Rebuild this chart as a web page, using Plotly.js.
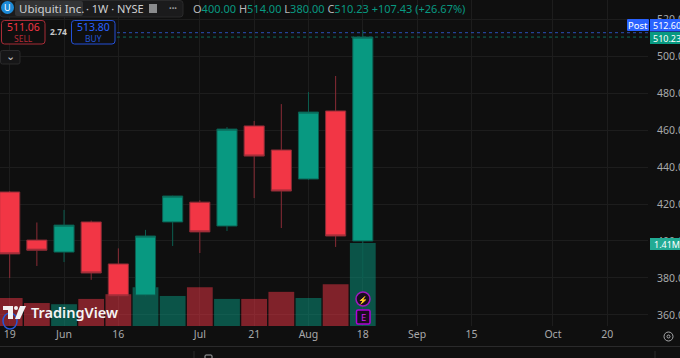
<!DOCTYPE html>
<html><head><meta charset="utf-8">
<script src="https://cdn.plot.ly/plotly-3.0.1.min.js"></script>
<style>html,body{margin:0;padding:0;background:#0f0f0f;overflow:hidden}#c{width:680px;height:358px}</style>
</head><body><div id="c"></div>
<script>
const weeks=['2025-05-19','2025-05-26','2025-06-02','2025-06-09','2025-06-16','2025-06-23','2025-06-30','2025-07-07','2025-07-14','2025-07-21','2025-07-28','2025-08-04','2025-08-11','2025-08-18'];
const opens =[426.5,400.5,394,410.3,387.6,370.8,410.3,421,408.1,462.2,449.2,433.5,470.3,400];
const highs =[427,410,416.8,411,396,406,424.5,422,461.6,464.9,474,480.5,489.2,514];
const lows  =[380,386.5,388.6,379,368,370,397.3,393.5,405.4,423.2,407,433,396.8,380];
const closes=[393,395,408.6,382.7,370.3,402.7,424.3,404.9,460.5,445.9,427,469.7,402.7,510.23];
const volumes=[0.475,0.39,0.37,0.46,0.54,0.66,0.51,0.66,0.46,0.46,0.58,0.475,0.71,1.41];
const tickDates=['2025-05-19','2025-06-02','2025-06-16','2025-07-07','2025-07-21','2025-08-04','2025-08-18','2025-09-01','2025-09-15','2025-10-06','2025-10-20'];
const tickLabels=['19','Jun','16','Jul','21','Aug','18','Sep','15','Oct','20'];
const priceTicks=[360,380,400,420,440,460,480,500,520];
const bidAsk=[512.6,510.23];

const FONT='"Noto Sans","Open Sans",sans-serif';
const PW=648,PH=326;
const X=p=>p/PW, Y=p=>1-p/PH;
const shapes=[],ann=[];
function rect(x0,y0,x1,y1,fill,line,lw){shapes.push({type:'rect',xref:'paper',yref:'paper',x0:X(x0),x1:X(x1),y0:Y(y1),y1:Y(y0),fillcolor:fill||'rgba(0,0,0,0)',line:{color:line||'rgba(0,0,0,0)',width:lw===undefined?(line?1:0):lw},layer:'above'});}
function rrect(x0,y0,x1,y1,r,fill,line,lw){
 const p=(a,b)=>`${X(a)} ${Y(b)}`;
 const path=`M ${p(x0+r,y0)} L ${p(x1-r,y0)} Q ${p(x1,y0)} ${p(x1,y0+r)} L ${p(x1,y1-r)} Q ${p(x1,y1)} ${p(x1-r,y1)} L ${p(x0+r,y1)} Q ${p(x0,y1)} ${p(x0,y1-r)} L ${p(x0,y0+r)} Q ${p(x0,y0)} ${p(x0+r,y0)} Z`;
 shapes.push({type:'path',xref:'paper',yref:'paper',path:path,fillcolor:fill||'rgba(0,0,0,0)',line:{color:line||'rgba(0,0,0,0)',width:lw===undefined?(line?1:0):lw},layer:'above'});
}
function circ(x0,y0,x1,y1,fill,line,lw){shapes.push({type:'circle',xref:'paper',yref:'paper',x0:X(x0),x1:X(x1),y0:Y(y1),y1:Y(y0),fillcolor:fill||'rgba(0,0,0,0)',line:{color:line||'rgba(0,0,0,0)',width:lw||1},layer:'above'});}
function txt(t,x,y,size,color,anchor,extra){ann.push(Object.assign({text:t,xref:'paper',yref:'paper',x:X(x),y:Y(y),xanchor:anchor||'left',yanchor:'middle',showarrow:false,borderpad:0,font:{family:FONT,size:size,color:color}},extra||{}));}

// dotted bid / ask lines
const dotCols=['#2a4fb8','#0e6a5a'];
bidAsk.forEach((v,i)=>shapes.push({type:'line',xref:'paper',yref:'y2',x0:X(117),x1:1,y0:v,y1:v,line:{color:dotCols[i],width:1,dash:'dot'},layer:'above'}));

// header
rrect(0,0.5,183,17,3,'#1b1b1c','#2a2a2b',1);
rrect(15,1,83,16,2,'#333436');
circ(1,1,14,14,'#1c8ad6');
txt('U',7.5,8,9,'#fff','center');
txt('Ubiquiti Inc.',17.5,9,11.5,'#cfd0d2');
txt('· 1W · NYSE',85,9,11,'#cfd0d2');
rect(149,4,157,13,'#8a8b8d');
txt('•••',173,9,7,'#9a9b9d','center');
const g='#089981',w='#b8b9bb';
txt(`<span style="color:${w}">O</span><span style="color:${g}">400.00</span> <span style="color:${w}">H</span><span style="color:${g}">514.00</span> <span style="color:${w}">L</span><span style="color:${g}">380.00</span> <span style="color:${w}">C</span><span style="color:${g}">510.23</span> <span style="color:${g}">+107.43 (+26.67%)</span>`,192,9,11,g);

// sell / buy
rrect(1.5,20.5,45,44,3,'#0f0f0f','#a82c37',1);
txt('511.06',23,27,10.5,'#f23645','center');
txt('SELL',23,38,8.5,'#b42b37','center');
txt('2.74',58,32,8.5,'#c8c9cb','center',{font:{family:FONT,size:8.5,color:'#c8c9cb',weight:700}});
rrect(71.5,20.5,115,44,3,'#0f0f0f','#2450d8',1);
txt('513.80',93,27,10.5,'#2962ff','center');
txt('BUY',93,38,8.5,'#2456d6','center');
rrect(0.5,50.5,20,64,2,'#161617','#2a2a2b',1);
txt('⌄',10,55,11,'#c8c9cb','center');

// price badges
rrect(627,19,649,31,1,'#2962ff');
txt('Post',638,25,9.5,'#fff','center');
rect(650,19,680,31.5,'#2962ff');
txt('512.60',651.5,25,9,'#fff');
rect(650,32,680,44,'#089981');
txt('510.23',651.5,38,9,'#fff');
rect(650,238,680,250,'#22ab94');
txt('1.41M',653,244,9,'#fff');

// purple markers
circ(356,292,370,306,'#1a0d1f','#a018c0',1.5);
txt('⚡',363,299,8,'#c020e0','center');
rrect(356.5,310,370,324,1.5,'#1a0d1f','#b000d8',1.5);
txt('E',363,317,9.5,'#d020f0','center');

// watermark
circ(3,313,17,329,'rgba(0,0,0,0)','#2456d6',1.5);
rect(3,306,13,310,'#f2f2f2');
rect(8,306,13,319,'#f2f2f2');
circ(14,306,18,310,'#f2f2f2');
shapes.push({type:'path',xref:'paper',yref:'paper',path:`M ${X(20)} ${Y(306)} L ${X(26)} ${Y(306)} L ${X(20)} ${Y(319)} L ${X(15)} ${Y(319)} Z`,fillcolor:'#f2f2f2',line:{width:0},layer:'above'});
txt('TradingView',30,312,14.5,'#f4f4f4','left',{font:{family:FONT,size:14.5,color:'#f4f4f4',weight:600}});

// settings icon + bottom strip
circ(664,332,673,341,'rgba(0,0,0,0)','#a8a9ab',1);
circ(667,335,670,338,'rgba(0,0,0,0)','#a8a9ab',1);
shapes.push({type:'line',xref:'paper',yref:'paper',x0:0,x1:X(680),y0:Y(346.5),y1:Y(346.5),line:{color:'#2a2a2b',width:1},layer:'above'});
shapes.push({type:'line',xref:'paper',yref:'paper',x0:X(194),x1:X(194),y0:Y(351),y1:Y(358),line:{color:'#2a2a2b',width:1},layer:'above'});
shapes.push({type:'line',xref:'paper',yref:'paper',x0:X(655),x1:X(655),y0:Y(351),y1:Y(358),line:{color:'#2a2a2b',width:1},layer:'above'});
rrect(205,355,212,362,1,'rgba(0,0,0,0)','#a8a9ab',1);
txt('1D  5D  1M  3M  6M  YTD  1Y  5Y  All',6,361.5,10,'#a8a9ab');
txt('20:31:38 UTC',587,361.5,10,'#a8a9ab');

const vColors=opens.map((o,i)=>closes[i]>=o?'rgba(8,153,129,0.5)':'rgba(242,54,69,0.5)');
const volume={type:'bar',x:weeks,y:volumes,yaxis:'y',xaxis:'x',width:7*864e5*0.95,marker:{color:vColors,line:{width:0}},hoverinfo:'skip'};
const candles={type:'candlestick',x:weeks,open:opens,high:highs,low:lows,close:closes,xaxis:'x',yaxis:'y2',whiskerwidth:0,
 increasing:{line:{color:'#0b5e50',width:1},fillcolor:'#089981'},
 decreasing:{line:{color:'#8a2c36',width:1},fillcolor:'#f23645'}};

Plotly.newPlot('c',[volume,candles],{
 width:680,height:358,margin:{l:0,r:32,t:0,b:32},
 paper_bgcolor:'#0f0f0f',plot_bgcolor:'#0f0f0f',showlegend:false,boxgap:0.26,boxgroupgap:0,
 xaxis:{type:'date',range:['2025-05-16 12:00','2025-10-30 12:00'],tickmode:'array',tickvals:tickDates,ticktext:tickLabels,
   gridcolor:'#1d1d1d',gridwidth:1,showline:false,zeroline:false,ticks:'',ticklen:0,
   tickfont:{family:FONT,size:10.5,color:'#a8a9ab'},rangeslider:{visible:false},automargin:false},
 yaxis:{range:[0,5.535],visible:false,showgrid:false,fixedrange:true},
 yaxis2:{overlaying:'y',side:'right',range:[354.05,530.27],tickmode:'array',tickvals:priceTicks,tickformat:'.2f',
   gridcolor:'#1d1d1d',gridwidth:1,zeroline:false,showline:false,ticks:'outside',ticklen:6,tickcolor:'rgba(0,0,0,0)',
   tickfont:{family:FONT,size:10.5,color:'#a8a9ab'},automargin:false},
 shapes:shapes,annotations:ann
},{displayModeBar:false,staticPlot:true});
</script></body></html>
